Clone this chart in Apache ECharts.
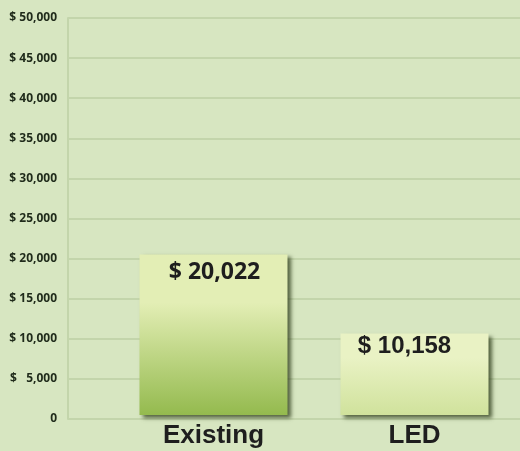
<!DOCTYPE html>
<html>
<head>
<meta charset="utf-8">
<script src="https://cdn.jsdelivr.net/npm/echarts@6/dist/echarts.min.js"></script>
<style>
html,body{margin:0;padding:0;background:#d7e6c1;}
#c{width:520px;height:451px;}
</style>
</head>
<body>
<div id="c"></div>
<script>
var categories = ['Existing', 'LED'];
var costs = [20022, 10158];
var yTicks = [0, 5000, 10000, 15000, 20000, 25000, 30000, 35000, 40000, 45000, 50000];
var yTickLabels = ['0', '$   5,000', '$ 10,000', '$ 15,000', '$ 20,000', '$ 25,000', '$ 30,000', '$ 35,000', '$ 40,000', '$ 45,000', '$ 50,000'];

var barStyles = [
  {top: '#e3eeb5', bottom: '#94ba4e', labelOffset: [1, 0], font: 'Open Sans, sans-serif', size: 23},
  {top: '#e9f2c4', bottom: '#d0e29c', labelOffset: [-10, -6], font: 'Liberation Sans, Arial, sans-serif', size: 24}
];

function fmt(v) {
  return '$ ' + v.toLocaleString('en-US');
}

var chart = echarts.init(document.getElementById('c'));
chart.setOption({
  backgroundColor: '#d7e6c1',
  animation: false,
  grid: [
    {left: 68, right: 0, top: 18, bottom: 32},
    {left: 113, right: 5, top: 14, bottom: 36}
  ],
  xAxis: [
    {gridIndex: 0, type: 'category', data: categories, show: false},
    {
      gridIndex: 1, type: 'category', data: categories,
      axisLine: {show: false}, axisTick: {show: false},
      axisLabel: {
        margin: 8, color: '#1e1e1e', fontSize: 26, fontWeight: 'bold',
        fontFamily: 'Liberation Sans, Arial, sans-serif'
      }
    }
  ],
  yAxis: [
    {
      gridIndex: 0, type: 'value', min: 0, max: 50000, interval: 5000,
      axisLine: {show: true, lineStyle: {color: '#c3d5ab', width: 2}},
      axisTick: {show: false},
      splitLine: {show: true, lineStyle: {color: '#c3d5ab', width: 2}},
      axisLabel: {
        margin: 11, color: '#1f2a1a', fontSize: 12, fontWeight: 'bold',
        fontFamily: 'Open Sans, sans-serif',
        formatter: function (v) {
          var i = yTicks.indexOf(v);
          return i >= 0 ? yTickLabels[i] : '';
        }
      }
    },
    {gridIndex: 1, type: 'value', min: 0, max: 50000, interval: 5000, show: false, splitLine: {show: false}}
  ],
  series: [{
    type: 'bar',
    xAxisIndex: 1, yAxisIndex: 1,
    barWidth: 148,
    data: costs.map(function (v, i) {
      var s = barStyles[i];
      return {
        value: v,
        itemStyle: {
          color: new echarts.graphic.LinearGradient(0, 0, 0, 1, [
            {offset: 0, color: s.top},
            {offset: 0.3, color: s.top},
            {offset: 1, color: s.bottom}
          ]),
          shadowColor: 'rgba(40,55,20,0.75)',
          shadowBlur: 4,
          shadowOffsetX: 3,
          shadowOffsetY: 3
        },
        label: {offset: s.labelOffset, fontFamily: s.font, fontSize: s.size}
      };
    }),
    label: {
      show: true,
      position: 'insideTop',
      distance: 7,
      color: '#1e1e1e',
      fontWeight: 'bold',
      formatter: function (p) { return fmt(p.value); }
    }
  }]
});
</script>
</body>
</html>
